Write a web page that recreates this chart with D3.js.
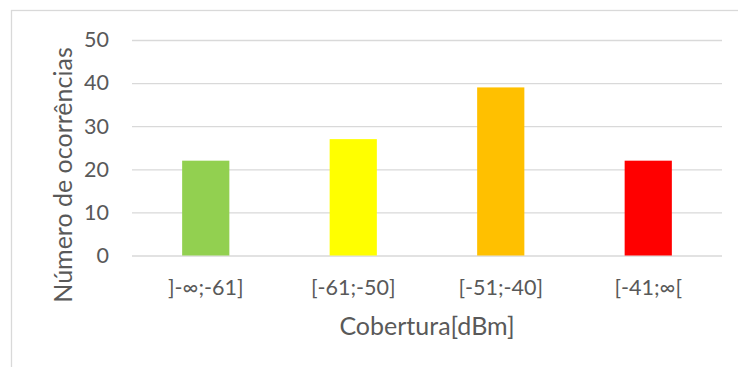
<!DOCTYPE html>
<html>
<head>
<meta charset="utf-8">
<script src="https://cdn.jsdelivr.net/npm/d3@7/dist/d3.min.js"></script>
<style>
  html, body { margin: 0; padding: 0; background: #fff; }
  svg { display: block; }
  text { font-family: Lato, "Open Sans", sans-serif; fill: #595959; }
</style>
</head>
<body>
<svg id="chart" width="738" height="367"></svg>
<script>
// Coverage classes and number of occurrences in each
const categories = ["]-∞;-61]", "[-61;-50]", "[-51;-40]", "[-41;∞["];
const occurrences = [22, 27, 39, 22];
const barColors = ["#92D050", "#FFFF00", "#FFC000", "#FF0000"];
const yTicks = [0, 10, 20, 30, 40, 50];
const xTitle = "Cobertura[dBm]";
const yTitle = "Número de ocorrências";

const W = 738, H = 367;
const margin = { top: 40, right: 16, bottom: 111.5, left: 132 };
const svg = d3.select("#chart");

// Outer chart frame
svg.append("rect")
  .attr("x", 11.5).attr("y", 10.5)
  .attr("width", W + 20).attr("height", H + 20)
  .attr("fill", "#fff").attr("stroke", "#d9d9d9").attr("stroke-width", 1.3);

const x = d3.scaleBand()
  .domain(categories)
  .range([margin.left, W - margin.right])
  .paddingInner(0.68).paddingOuter(0.34);

const y = d3.scaleLinear()
  .domain([0, 50])
  .range([H - margin.bottom, margin.top]);

// Horizontal gridlines with value labels
const yAxis = d3.axisLeft(y)
  .tickValues(yTicks)
  .tickSize(-(W - margin.right - margin.left))
  .tickPadding(23)
  .tickFormat(d3.format("d"));

const gy = svg.append("g")
  .attr("transform", `translate(${margin.left},0)`)
  .call(yAxis);
gy.select(".domain").remove();
gy.selectAll(".tick line").attr("stroke", "#d9d9d9").attr("stroke-width", 1.3);
gy.selectAll(".tick text")
  .attr("font-size", 21.5)
  .attr("fill", "#595959");

// Bars
svg.append("g")
  .selectAll("rect")
  .data(occurrences)
  .join("rect")
  .attr("x", (d, i) => x(categories[i]))
  .attr("y", d => y(d))
  .attr("width", x.bandwidth())
  .attr("height", d => y(0) - y(d))
  .attr("fill", (d, i) => barColors[i]);

// Category labels
const xAxis = d3.axisBottom(x).tickSize(0).tickPadding(24);
const gx = svg.append("g")
  .attr("transform", `translate(0,${y(0)})`)
  .call(xAxis);
gx.select(".domain").remove();
gx.selectAll(".tick text")
  .attr("font-size", 21.5)
  .attr("fill", "#595959");

// Axis titles
svg.append("text")
  .attr("x", (margin.left + W - margin.right) / 2)
  .attr("y", 335)
  .attr("text-anchor", "middle")
  .attr("font-size", 25)
  .text(xTitle);

svg.append("text")
  .attr("transform", "translate(72,175) rotate(-90)")
  .attr("text-anchor", "middle")
  .attr("font-size", 25)
  .text(yTitle);
</script>
</body>
</html>
